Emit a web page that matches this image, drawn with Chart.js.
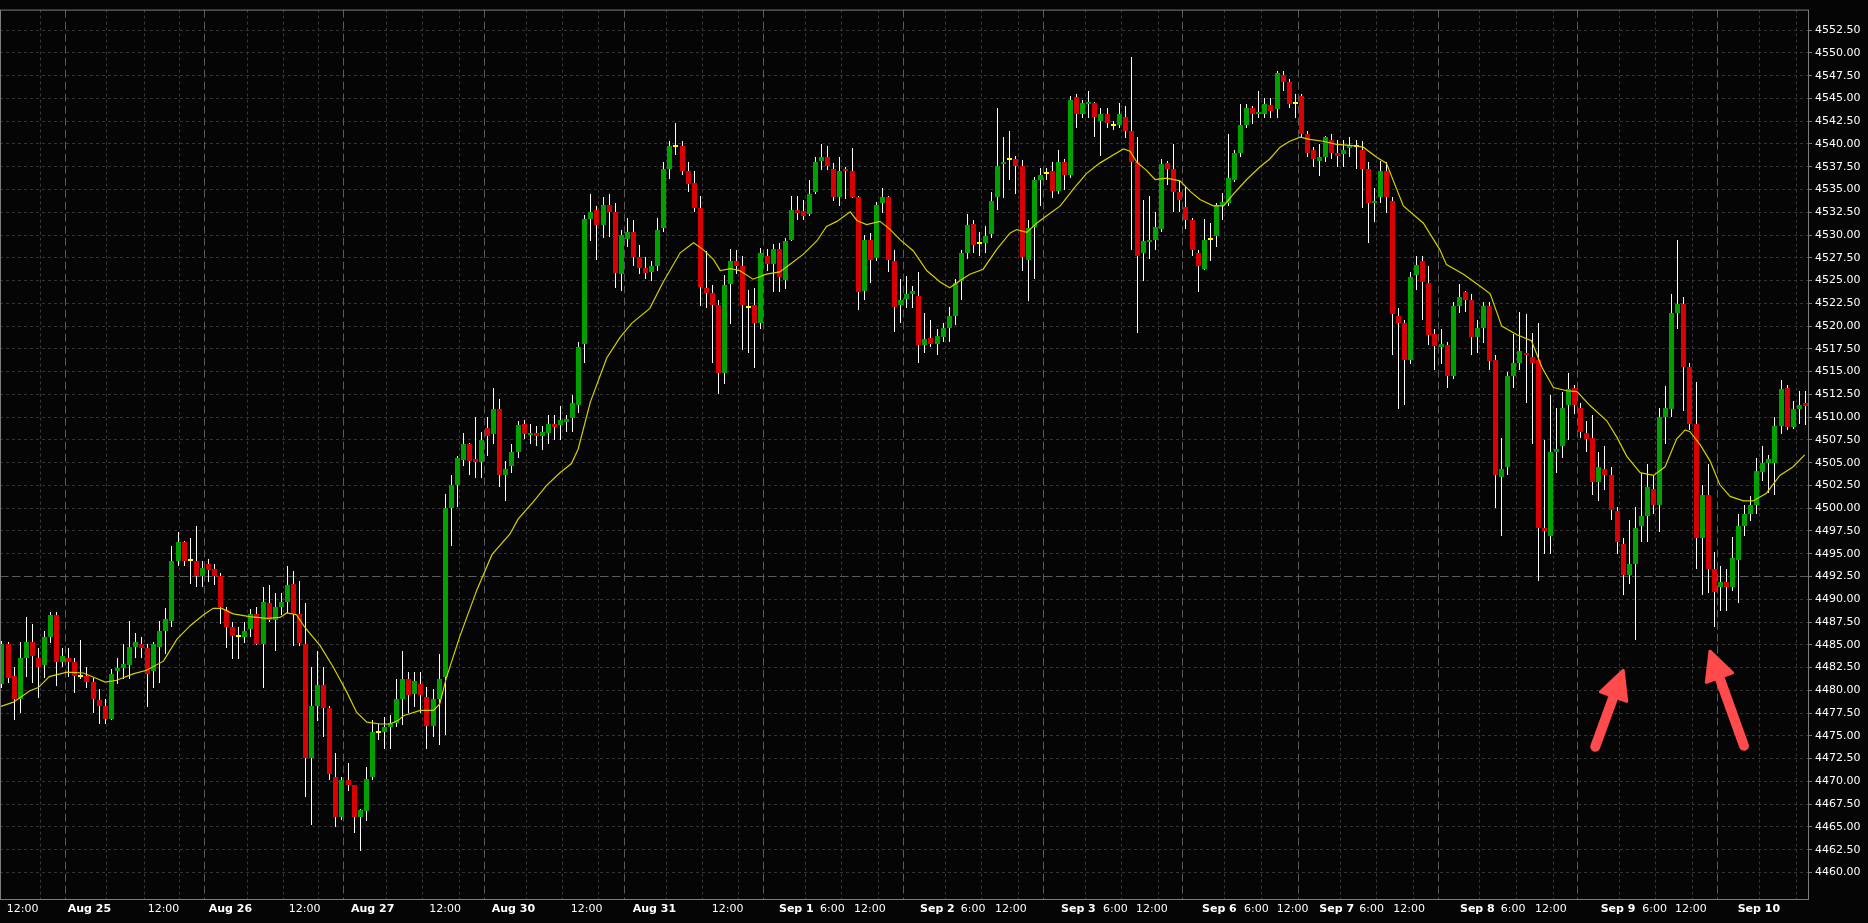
<!DOCTYPE html>
<html>
<head>
<meta charset="utf-8">
<title>Hourly candles with moving average</title>
<script src="https://cdn.jsdelivr.net/npm/chart.js@4.4.1/dist/chart.umd.min.js"></script>
<style>
  html, body { margin: 0; padding: 0; background: #050505; }
  #wrap { width: 1868px; height: 923px; }
</style>
</head>
<body>
<div id="wrap"><canvas id="chart" width="1868" height="923"></canvas></div>
<script>
// hourly candles, index 0..297 (x axis is candle index)
const opens = [
  4480.7, 4485.1, 4481.6, 4479.1, 4483.6, 4485.3, 4483.6, 4482.8, 4485.9, 4488.3,
  4483.1, 4483.6, 4483.1, 4481.5, 4481.6, 4480.9, 4478.9, 4478.3, 4476.8, 4482.1,
  4482.4, 4482.8, 4484.8, 4485.1, 4484.6, 4482.1, 4484.8, 4486.5, 4487.6, 4494.25,
  4496.3, 4494.2, 4494.2, 4492.5, 4493.9, 4493.3, 4492.5, 4488.8, 4487.0, 4485.8,
  4485.9, 4486.7, 4488.4, 4485.1, 4489.6, 4487.7, 4489.1, 4489.7, 4491.7, 4488.4,
  4485.05, 4472.55, 4478.3, 4480.6, 4478.1, 4470.5, 4466.1, 4470.1, 4469.6, 4466.1,
  4466.7, 4470.5, 4475.3, 4475.4, 4476.0, 4476.4, 4479.1, 4481.2, 4479.6, 4480.7,
  4479.25, 4476.1, 4479.0, 4481.5, 4500.0, 4502.5, 4505.3, 4507.0, 4505.4, 4505.1,
  4508.8, 4508.1, 4510.85, 4503.6, 4504.6, 4506.2, 4509.25, 4508.0, 4508.3, 4507.9,
  4508.3, 4509.2, 4509.1, 4509.5, 4509.9, 4511.3, 4518.05, 4531.8, 4532.75, 4531.05,
  4533.3, 4532.55, 4525.7, 4529.6, 4530.3, 4527.6, 4526.4, 4525.95, 4526.55, 4530.8,
  4537.25, 4539.7, 4539.75, 4537.05, 4535.75, 4533.0, 4524.2, 4523.65, 4522.3, 4514.9,
  4524.6, 4527.1, 4526.6, 4522.0, 4522.3, 4520.35, 4527.75, 4526.8, 4528.5, 4525.1,
  4529.5, 4532.75, 4532.6, 4532.35, 4534.7, 4538.1, 4538.55, 4537.25, 4534.15, 4537.25,
  4537.05, 4534.15, 4523.85, 4529.5, 4527.5, 4533.55, 4534.2, 4527.1, 4522.3, 4523.0,
  4523.55, 4523.35, 4517.9, 4518.7, 4518.05, 4518.8, 4519.8, 4521.1, 4524.95, 4528.05,
  4531.2, 4529.0, 4529.15, 4530.1, 4534.2, 4537.85, 4538.2, 4538.3, 4537.6, 4527.3,
  4530.9, 4536.1, 4536.75, 4537.07, 4534.82, 4538.04, 4536.62, 4545.12, 4543.32, 4544.35,
  4544.48, 4542.55, 4543.32, 4542.03, 4542.09, 4542.99, 4541.39, 4538.04, 4528.06, 4529.22,
  4529.47, 4530.63, 4537.91, 4537.26, 4534.69, 4533.08, 4531.6, 4528.06, 4526.32, 4529.47,
  4529.86, 4533.34, 4533.53, 4536.1, 4539.0, 4542.09, 4543.96, 4543.32, 4543.32, 4544.28,
  4543.83, 4547.57, 4546.86, 4544.35, 4545.25, 4541.13, 4539.33, 4538.17, 4538.55, 4540.48,
  4539.0, 4538.87, 4539.52, 4539.65, 4539.33, 4537.26, 4533.53, 4534.2, 4537.07, 4533.79,
  4521.1, 4520.3, 4516.3, 4525.6, 4527.1, 4524.7, 4519.15, 4517.75, 4517.95, 4514.5,
  4522.25, 4523.7, 4522.9, 4518.85, 4519.8, 4522.25, 4516.3, 4503.4, 4504.55, 4514.5,
  4516.0, 4517.1, 4516.65, 4516.3, 4497.8, 4497.0, 4506.15, 4506.8, 4511.3, 4513.25,
  4511.0, 4508.3, 4507.75, 4502.9, 4504.35, 4503.6, 4499.7, 4496.05, 4492.65, 4493.9,
  4498.0, 4499.1, 4502.1, 4500.4, 4510.0, 4510.85, 4521.45, 4522.45, 4515.5, 4509.2,
  4496.7, 4501.45, 4493.3, 4491.3, 4491.95, 4491.3, 4494.35, 4498.0, 4499.4, 4500.4,
  4503.95, 4505.0, 4505.0, 4509.05, 4513.25, 4508.9, 4510.95, 4511.5
];
const highs = [
  4485.4, 4485.3, 4482.6, 4485.3, 4488.0, 4487.3, 4484.7, 4486.5, 4488.6, 4488.6,
  4484.6, 4484.6, 4483.5, 4485.5, 4482.6, 4481.4, 4480.1, 4479.1, 4482.3, 4483.5,
  4485.1, 4487.6, 4486.3, 4485.9, 4485.1, 4485.3, 4487.6, 4489.0, 4495.9, 4497.35,
  4496.4, 4496.7, 4498.0, 4494.2, 4494.4, 4493.9, 4492.9, 4489.1, 4487.5, 4486.9,
  4487.5, 4488.9, 4489.1, 4491.4, 4491.6, 4490.7, 4490.7, 4493.6, 4493.1, 4492.0,
  4489.6, 4482.6, 4484.3, 4482.6, 4478.3, 4473.1, 4470.5, 4472.0, 4469.6, 4467.0,
  4471.6, 4476.7, 4476.3, 4477.1, 4477.3, 4481.2, 4484.3, 4482.0, 4482.0, 4482.0,
  4480.4, 4480.1, 4484.0, 4501.6, 4503.6, 4505.7, 4508.3, 4507.2, 4510.0, 4508.4,
  4510.0, 4513.2, 4512.0, 4505.2, 4507.1, 4509.6, 4509.7, 4509.2, 4509.05, 4509.05,
  4510.2, 4510.2, 4511.2, 4510.2, 4512.4, 4518.2, 4532.2, 4534.5, 4533.2, 4534.2,
  4534.5, 4533.5, 4530.6, 4531.9, 4531.6, 4528.9, 4527.6, 4527.2, 4531.9, 4538.0,
  4540.3, 4542.3, 4540.3, 4538.0, 4537.05, 4534.3, 4528.3, 4524.5, 4522.9, 4525.6,
  4528.5, 4528.4, 4527.75, 4523.95, 4524.2, 4528.6, 4528.5, 4529.0, 4529.15, 4529.7,
  4534.3, 4534.3, 4533.85, 4536.1, 4538.55, 4539.95, 4539.8, 4537.9, 4538.55, 4537.5,
  4539.6, 4534.3, 4530.0, 4530.2, 4533.65, 4535.15, 4534.3, 4528.4, 4525.15, 4525.5,
  4524.4, 4525.9, 4521.4, 4520.65, 4519.7, 4520.3, 4522.05, 4525.15, 4528.4, 4532.35,
  4531.6, 4530.3, 4530.95, 4534.7, 4543.95, 4540.75, 4541.4, 4538.7, 4538.2, 4531.7,
  4536.4, 4537.4, 4537.4, 4538.04, 4539.33, 4538.36, 4545.25, 4545.45, 4544.8, 4545.77,
  4544.6, 4543.96, 4543.96, 4542.55, 4544.48, 4544.16, 4549.5, 4540.74, 4533.85, 4534.3,
  4532.55, 4538.36, 4538.17, 4539.97, 4536.1, 4535.3, 4531.9, 4528.38, 4531.73, 4531.3,
  4533.53, 4534.6, 4541.13, 4539.33, 4544.35, 4544.35, 4544.16, 4545.77, 4545.1, 4545.1,
  4548.0, 4548.0, 4547.18, 4545.45, 4545.45, 4541.39, 4539.65, 4539.97, 4540.93, 4541.13,
  4540.48, 4540.48, 4540.74, 4540.48, 4540.28, 4538.04, 4535.15, 4538.17, 4538.04, 4534.2,
  4521.95, 4520.65, 4525.95, 4527.7, 4527.75, 4526.6, 4519.65, 4519.65, 4518.2, 4522.6,
  4524.65, 4523.85, 4523.55, 4520.65, 4522.6, 4522.6, 4516.8, 4507.75, 4514.95, 4519.15,
  4521.6, 4521.3, 4519.2, 4520.3, 4507.45, 4512.4, 4511.0, 4512.8, 4514.85, 4513.55,
  4511.6, 4509.6, 4510.2, 4506.2, 4506.8, 4504.55, 4500.15, 4496.7, 4498.75, 4500.15,
  4503.9, 4504.9, 4503.6, 4511.0, 4513.45, 4523.55, 4529.5, 4523.25, 4516.0, 4513.9,
  4502.6, 4504.9, 4495.2, 4493.6, 4493.3, 4496.8, 4499.4, 4500.4, 4501.3, 4505.5,
  4506.8, 4505.85, 4510.0, 4514.1, 4513.55, 4511.75, 4512.9, 4512.9
];
const lows = [
  4480.2, 4480.8, 4476.7, 4477.5, 4481.5, 4480.8, 4479.2, 4481.4, 4485.2, 4480.5,
  4482.6, 4481.5, 4479.7, 4481.2, 4480.2, 4477.5, 4476.3, 4476.3, 4476.7, 4480.7,
  4481.2, 4481.2, 4483.5, 4483.5, 4478.2, 4480.2, 4480.8, 4484.0, 4487.0, 4493.7,
  4493.7, 4491.7, 4491.3, 4491.3, 4491.9, 4491.6, 4487.3, 4484.6, 4483.4, 4483.4,
  4485.2, 4485.9, 4485.0, 4480.3, 4487.5, 4484.3, 4488.3, 4488.5, 4484.9, 4484.9,
  4468.3, 4465.2, 4476.6, 4474.9, 4470.1, 4465.0, 4465.8, 4468.9, 4464.3, 4462.3,
  4465.7, 4470.2, 4474.5, 4473.6, 4473.6, 4476.0, 4476.2, 4477.5, 4478.2, 4477.5,
  4473.6, 4474.9, 4474.0, 4475.1, 4495.8, 4500.1, 4504.6, 4503.6, 4503.3, 4503.3,
  4505.7, 4507.0, 4502.3, 4500.8, 4503.9, 4505.5, 4507.65, 4507.0, 4506.8, 4506.4,
  4507.1, 4507.45, 4507.45, 4508.4, 4508.4, 4510.5, 4516.0, 4529.35, 4527.3, 4529.7,
  4529.8, 4524.2, 4523.9, 4528.7, 4526.6, 4525.7, 4525.15, 4525.0, 4526.1, 4530.3,
  4536.2, 4538.8, 4536.6, 4534.7, 4532.55, 4522.2, 4522.0, 4516.0, 4512.5, 4513.6,
  4520.2, 4525.7, 4517.4, 4517.0, 4515.4, 4519.7, 4526.1, 4523.7, 4523.7, 4524.05,
  4529.35, 4531.6, 4531.7, 4532.1, 4534.5, 4537.1, 4537.1, 4533.7, 4533.2, 4534.0,
  4534.05, 4521.8, 4522.9, 4524.7, 4527.1, 4532.4, 4525.9, 4519.3, 4520.3, 4521.95,
  4521.95, 4516.0, 4517.0, 4517.75, 4516.8, 4518.25, 4518.2, 4520.1, 4522.9, 4527.4,
  4528.05, 4527.75, 4528.05, 4529.65, 4532.75, 4534.05, 4536.1, 4534.5, 4526.1, 4522.8,
  4525.15, 4533.2, 4536.1, 4534.05, 4534.5, 4534.95, 4536.23, 4541.78, 4542.86, 4542.86,
  4540.74, 4538.68, 4541.78, 4541.58, 4541.78, 4540.61, 4528.38, 4519.2, 4525.0, 4527.4,
  4528.38, 4530.3, 4535.45, 4532.55, 4532.55, 4530.63, 4527.73, 4523.75, 4526.13, 4527.2,
  4528.7, 4531.7, 4533.2, 4535.8, 4538.55, 4541.78, 4542.2, 4542.86, 4542.86, 4542.86,
  4542.86, 4545.77, 4543.96, 4542.86, 4540.61, 4538.55, 4537.52, 4536.43, 4538.04, 4538.36,
  4537.52, 4537.52, 4538.55, 4537.26, 4533.0, 4529.15, 4531.47, 4533.53, 4532.4, 4516.8,
  4510.85, 4511.3, 4515.85, 4524.0, 4520.65, 4517.95, 4515.15, 4515.8, 4513.25, 4514.2,
  4521.45, 4521.6, 4516.8, 4517.1, 4518.1, 4515.15, 4500.05, 4496.95, 4503.6, 4513.25,
  4515.15, 4511.5, 4507.0, 4492.0, 4495.0, 4495.0, 4503.9, 4505.5, 4507.45, 4510.35,
  4507.75, 4506.2, 4501.45, 4500.8, 4501.95, 4498.75, 4495.0, 4490.5, 4491.7, 4485.55,
  4496.3, 4496.3, 4499.4, 4497.35, 4507.0, 4510.0, 4519.7, 4510.65, 4508.55, 4493.3,
  4490.5, 4490.7, 4487.0, 4488.75, 4488.75, 4490.9, 4489.6, 4496.95, 4498.6, 4499.4,
  4503.0, 4501.65, 4501.45, 4508.1, 4508.55, 4508.75, 4509.2, 4509.1
];
const closes = [
  4485.1, 4481.3, 4479.1, 4483.6, 4485.3, 4483.8, 4482.6, 4485.9, 4488.3, 4483.1,
  4483.8, 4483.1, 4481.6, 4481.5, 4480.9, 4479.1, 4478.3, 4476.8, 4481.8, 4482.4,
  4482.9, 4484.8, 4485.3, 4484.6, 4481.8, 4485.1, 4486.5, 4487.8, 4494.25, 4496.3,
  4494.25, 4494.2, 4492.5, 4493.4, 4493.2, 4492.5, 4489.1, 4487.0, 4486.0, 4485.8,
  4486.5, 4488.4, 4485.1, 4489.7, 4487.7, 4489.1, 4489.7, 4491.6, 4488.4, 4485.2,
  4472.55, 4478.3, 4480.6, 4478.1, 4470.8, 4466.1, 4470.1, 4469.6, 4466.1, 4466.8,
  4470.3, 4475.4, 4475.3, 4476.0, 4476.4, 4479.1, 4481.2, 4479.5, 4481.0, 4479.45,
  4476.1, 4479.0, 4481.2, 4500.0, 4502.5, 4505.5, 4507.0, 4505.2, 4505.1, 4507.45,
  4507.9, 4510.85, 4503.6, 4504.35, 4506.2, 4509.1, 4508.1, 4508.2, 4507.9, 4508.4,
  4509.2, 4508.9, 4509.7, 4509.8, 4511.5, 4517.75, 4531.8, 4532.55, 4531.05, 4533.35,
  4532.55, 4525.8, 4530.0, 4530.3, 4527.6, 4526.35, 4525.8, 4526.55, 4530.6, 4537.25,
  4539.75, 4539.7, 4537.05, 4535.6, 4533.0, 4524.3, 4523.65, 4522.3, 4514.9, 4524.55,
  4527.1, 4526.6, 4522.3, 4522.0, 4520.35, 4528.05, 4526.8, 4528.5, 4525.4, 4529.3,
  4532.75, 4532.4, 4532.1, 4534.55, 4538.0, 4538.6, 4537.6, 4534.15, 4537.05, 4537.05,
  4534.15, 4523.7, 4529.5, 4527.25, 4533.35, 4534.2, 4527.25, 4522.1, 4522.9, 4523.55,
  4523.8, 4517.95, 4518.6, 4518.05, 4518.95, 4519.75, 4521.1, 4524.7, 4528.05, 4531.1,
  4528.9, 4529.0, 4529.85, 4533.7, 4537.55, 4538.05, 4538.2, 4537.6, 4527.6, 4530.8,
  4536.1, 4536.6, 4536.75, 4534.82, 4538.04, 4536.62, 4544.8, 4543.32, 4544.48, 4544.48,
  4542.99, 4543.32, 4542.35, 4542.03, 4543.32, 4541.39, 4538.04, 4527.73, 4529.34, 4529.47,
  4530.83, 4537.84, 4537.26, 4534.69, 4533.85, 4531.6, 4528.38, 4526.64, 4529.47, 4529.47,
  4533.34, 4533.66, 4536.3, 4539.0, 4542.09, 4543.96, 4543.32, 4543.51, 4544.35, 4543.64,
  4547.83, 4546.86, 4544.35, 4544.35, 4541.13, 4539.0, 4538.36, 4538.55, 4540.74, 4539.0,
  4538.68, 4539.33, 4539.84, 4539.65, 4537.26, 4533.53, 4533.79, 4537.07, 4534.2, 4521.3,
  4520.3, 4516.3, 4525.35, 4526.7, 4524.85, 4519.05, 4517.85, 4518.05, 4514.5, 4522.25,
  4523.25, 4522.9, 4518.85, 4519.8, 4522.25, 4516.15, 4503.6, 4504.35, 4514.5, 4516.0,
  4517.25, 4516.8, 4516.0, 4497.8, 4497.5, 4506.15, 4506.5, 4511.0, 4513.05, 4511.3,
  4508.4, 4507.6, 4502.9, 4504.55, 4503.6, 4499.85, 4496.3, 4492.65, 4493.9, 4497.8,
  4499.1, 4502.3, 4500.4, 4510.0, 4511.0, 4521.45, 4522.45, 4515.5, 4509.2, 4496.7,
  4501.45, 4493.3, 4490.85, 4491.95, 4491.3, 4494.55, 4498.0, 4499.4, 4500.4, 4504.1,
  4505.0, 4505.4, 4509.05, 4513.05, 4508.9, 4510.95, 4511.3, 4511.2
];

// moving average at candle positions
const maIdx = [
  -0.3, 1.9, 4.6, 6, 7.8, 10.7, 13.4, 15.6, 17, 18.9, 21.6, 23.8, 26.6, 28.8, 31, 33.2, 34.8, 36.2,
  38.1, 40.8, 43.6, 45.8, 46.9, 48.5, 49.9, 52.4, 54.6, 56.8, 58.4, 60.1, 62.3, 63.9, 65.3, 66.1,
  68.9, 71.1, 72.1, 73.2, 75.4, 78.2, 80.7, 83.7, 85, 87.5, 89.7, 91.9, 93.8, 94.9, 96.9, 99.6,
  101.8, 103.7, 106.7, 108.9, 111.7, 113.9, 115.5, 117.2, 118.3, 120, 121.5, 123.7, 125.9, 128.1,
  129.8, 132, 134.2, 135.8, 137.5, 139.7, 140.8, 142.4, 144.6, 146.3, 147.9, 150.1, 152.3, 154.5,
  156.1, 157.8, 159.4, 161.6, 163.8, 166, 167.1, 168.8, 170.4, 172, 174.3, 176.5, 178.6, 180.8,
  183, 184.7, 185.8, 186.9, 188.5, 189.9, 191.8, 194, 195.7, 197.3, 199.5, 201.2, 202.8, 205,
  207.2, 208.8, 210.5, 212.1, 213.8, 215.4, 217.6, 219.8, 222, 224.2, 226.4, 228, 230.8, 234.1,
  236.8, 237.9, 240.7, 243.4, 245.1, 247, 249.5, 251.9, 253.6, 255.5, 257.7, 259.4, 261.5, 264.3,
  266, 267.6, 269.8, 272, 273.9, 275.8, 277.2, 278, 279.7, 281.3, 282.9, 284.6, 286.8, 288.4,
  290.6, 292.8, 295, 296.9
];
const maVal = [
  4478.2, 4478.7, 4479.95, 4480.3, 4481.5, 4482.0, 4481.9, 4481.3, 4480.9, 4481.1, 4481.8, 4482.2, 4483.2, 4485.6, 4487.1, 4488.3, 4489.0, 4489.0,
  4488.4, 4488.1, 4487.9, 4488.0, 4488.5, 4488.3, 4486.9, 4484.9, 4482.5, 4479.8, 4477.6, 4476.5, 4476.3, 4476.3, 4476.7, 4477.2,
  4477.8, 4477.8, 4478.5, 4481.4, 4485.9, 4491.0, 4494.9, 4497.2, 4498.8, 4500.7, 4502.5, 4503.9, 4504.9, 4506.5, 4511.65, 4516.5,
  4518.75, 4520.3, 4521.95, 4524.85, 4528.05, 4529.15, 4528.4, 4527.3, 4526.1, 4526.3, 4526.1, 4525.15, 4525.7, 4525.95,
  4526.8, 4527.9, 4529.35, 4530.95, 4531.5, 4532.55, 4531.6, 4531.15, 4531.5, 4530.6, 4529.5, 4528.25, 4526.1, 4524.85,
  4524.2, 4525.0, 4525.7, 4526.25, 4528.4, 4530.2, 4530.6, 4530.3, 4531.3, 4532.1, 4533.2, 4535.1, 4536.75, 4537.9,
  4538.8, 4539.45, 4539.2, 4538.0, 4537.1, 4536.1, 4536.25, 4535.95, 4534.8, 4533.9, 4533.2, 4533.2, 4534.5, 4536.1,
  4537.5, 4538.35, 4539.65, 4540.3, 4540.75, 4540.5, 4540.3, 4539.95, 4539.85, 4539.65, 4538.55, 4537.9, 4533.2, 4531.3,
  4528.4, 4526.75, 4525.7, 4524.4, 4523.55, 4520.0, 4519.05, 4518.4, 4515.5, 4513.25, 4512.9, 4512.8, 4511.3, 4509.6,
  4507.75, 4505.7, 4503.9, 4503.6, 4504.55, 4507.6, 4508.6, 4508.4, 4506.95, 4505.2, 4502.6, 4501.3, 4500.8, 4500.8,
  4501.65, 4503.6, 4504.55, 4505.85
];

// x axis labels (left edge of each label, in candle index units)
const labelPos = [0.78, 10.83, 24.0, 34.05, 47.23, 57.49, 70.38, 80.66, 93.67, 103.88, 116.89,
  127.97, 134.73, 140.33, 151.2, 157.9, 163.55, 174.42, 181.34, 186.77, 197.64, 204.55, 209.94,
  216.96, 223.55, 229.14, 240.12, 246.83, 252.48, 263.3, 270.15, 275.53, 285.86];
const labelText = ['12:00', 'Aug 25', '12:00', 'Aug 26', '12:00', 'Aug 27', '12:00', 'Aug 30', '12:00', 'Aug 31', '12:00',
  'Sep 1', '6:00', '12:00', 'Sep 2', '6:00', '12:00', 'Sep 3', '6:00', '12:00', 'Sep 6', '6:00', '12:00',
  'Sep 7', '6:00', '12:00', 'Sep 8', '6:00', '12:00', 'Sep 9', '6:00', '12:00', 'Sep 10'];

// vertical grid lines (candle index units)
const hourLines = [6.38, 17.3, 23.4, 29.3, 40.4, 46.3, 52.2, 63.4, 69.3, 75.3, 86.4, 92.4, 98.3,
  109.5, 115.3, 121.3, 132.3, 138.3, 144.3, 155.4, 161.4, 167.4, 178.5, 184.4, 190.4, 201.4, 207.5,
  220.5, 226.4, 232.4, 243.4, 249.4, 255.5, 266.4, 272.4, 278.4, 289.4, 295.5];
const dayLines = [10.5, 33.28, 56.33, 79.5, 102.5, 125.39, 148.45, 171.57, 194.46, 213.5, 236.55, 259.45, 282.5];

const priceTicks = [4460, 4462.5, 4465, 4467.5, 4470, 4472.5, 4475, 4477.5, 4480, 4482.5, 4485, 4487.5,
  4490, 4492.5, 4495, 4497.5, 4500, 4502.5, 4505, 4507.5, 4510, 4512.5, 4515, 4517.5, 4520, 4522.5,
  4525, 4527.5, 4530, 4532.5, 4535, 4537.5, 4540, 4542.5, 4545, 4547.5, 4550, 4552.5];
const refLevel = 4492.5;

// red arrows: [candle index, price]
const arrowTail = [[262.4, 4473.8], [286.9, 4473.9]];
const arrowTip = [[267.0, 4482.2], [281.3, 4484.3]];

const GREEN = '#00a000', RED = '#d80000', DOJI = '#ffff00';
const bodyColors = opens.map((o, i) => closes[i] > o ? GREEN : (closes[i] < o ? RED : DOJI));

const overlay = {
  id: 'overlay',
  // snap candle bars to whole pixels so bodies and wicks stay crisp
  afterDatasetsUpdate(chart) {
    chart.getSortedVisibleDatasetMetas().forEach(meta => {
      if (meta.type !== 'bar') return;
      meta.data.forEach(el => {
        el.x = Math.floor(el.x) + 0.5;
        el.y = Math.round(el.y);
        el.base = Math.round(el.base);
      });
    });
  },
  beforeDatasetsDraw(chart) {
    const { ctx, chartArea: a, scales: { x, y } } = chart;
    ctx.save();
    ctx.beginPath();
    ctx.rect(a.left, a.top, a.right - a.left, a.bottom - a.top);
    ctx.clip();
    ctx.lineWidth = 1;
    const vline = v => {
      const px = Math.floor(x.getPixelForValue(v)) + 0.5;
      ctx.beginPath(); ctx.moveTo(px, a.top); ctx.lineTo(px, a.bottom); ctx.stroke();
    };
    ctx.strokeStyle = '#383838';
    ctx.setLineDash([3, 3]);
    hourLines.forEach(vline);
    ctx.strokeStyle = '#5a5a5a';
    ctx.setLineDash([8, 4]);
    dayLines.forEach(vline);
    const py = Math.floor(y.getPixelForValue(refLevel)) + 0.5;
    ctx.beginPath(); ctx.moveTo(a.left, py); ctx.lineTo(a.right, py); ctx.stroke();
    ctx.restore();
  },
  afterDraw(chart) {
    const { ctx, chartArea: a, scales: { x, y } } = chart;
    ctx.save();
    ctx.strokeStyle = '#7c7c7c';
    ctx.lineWidth = 1;
    ctx.strokeRect(a.left + 0.5, a.top + 0.5, a.right - a.left, a.bottom - a.top);

    ctx.fillStyle = '#ff4b4b';
    ctx.strokeStyle = '#ff4b4b';
    arrowTail.forEach((t, k) => {
      const x0 = x.getPixelForValue(t[0]), y0 = y.getPixelForValue(t[1]);
      const x1 = x.getPixelForValue(arrowTip[k][0]), y1 = y.getPixelForValue(arrowTip[k][1]);
      const len = Math.hypot(x1 - x0, y1 - y0);
      const ux = (x1 - x0) / len, uy = (y1 - y0) / len;
      const headLen = 28, headW = 14;
      const bx = x1 - ux * headLen, by = y1 - uy * headLen;
      ctx.lineCap = 'round';
      ctx.lineWidth = 10;
      ctx.beginPath();
      ctx.moveTo(x0, y0);
      ctx.lineTo(x1 - ux * headLen * 0.6, y1 - uy * headLen * 0.6);
      ctx.stroke();
      ctx.lineJoin = 'round';
      ctx.lineWidth = 3;
      ctx.beginPath();
      ctx.moveTo(x1, y1);
      ctx.lineTo(bx - uy * headW, by + ux * headW);
      ctx.lineTo(bx + uy * headW, by - ux * headW);
      ctx.closePath();
      ctx.fill();
      ctx.stroke();
    });
    ctx.restore();
  }
};

const ctx = document.getElementById('chart').getContext('2d');
new Chart(ctx, {
  type: 'bar',
  data: {
    datasets: [
      {
        type: 'line',
        label: 'Moving average',
        data: maIdx.map((v, i) => ({ x: v, y: maVal[i] })),
        borderColor: '#d6cf00',
        borderWidth: 1.2,
        pointRadius: 0,
        tension: 0,
        order: 0
      },
      {
        label: 'Body',
        data: opens.map((o, i) => ({ x: i, y: [o, closes[i]] })),
        backgroundColor: bodyColors,
        barThickness: 5,
        maxBarThickness: 5,
        minBarLength: 2,
        grouped: false,
        inflateAmount: 0,
        order: 1
      },
      {
        label: 'Wick',
        data: lows.map((l, i) => ({ x: i, y: [l, highs[i]] })),
        backgroundColor: '#ffffff',
        barThickness: 1,
        maxBarThickness: 1,
        grouped: false,
        inflateAmount: 0,
        order: 2
      }
    ]
  },
  options: {
    responsive: false,
    animation: false,
    devicePixelRatio: 1,
    events: [],
    layout: { padding: { top: 6, left: 0, right: 0, bottom: 0 } },
    plugins: {
      legend: { display: false },
      tooltip: { enabled: false }
    },
    scales: {
      x: {
        type: 'linear',
        min: -0.32,
        max: 297.44,
        offset: false,
        grid: { display: false, drawTicks: false },
        border: { display: false },
        afterBuildTicks: s => { s.ticks = labelPos.map(v => ({ value: v })); },
        afterFit: s => { s.height = 24; },
        ticks: {
          autoSkip: false,
          maxRotation: 0,
          minRotation: 0,
          align: 'start',
          padding: 4,
          color: '#ffffff',
          font: c => ({ family: 'DejaVu Sans', size: 11, weight: labelText[c.index] && labelText[c.index].indexOf(':') < 0 ? 'bold' : 'normal' }),
          callback: (v, i) => labelText[i]
        }
      },
      y: {
        type: 'linear',
        position: 'right',
        min: 4457.08,
        max: 4554.76,
        afterBuildTicks: s => { s.ticks = priceTicks.map(v => ({ value: v })); },
        afterFit: s => { s.width = 60; },
        grid: { color: '#333333', lineWidth: 1, drawTicks: true, tickLength: 4, tickColor: '#777777' },
        border: { display: false, dash: [3, 3] },
        ticks: {
          color: '#ffffff',
          padding: 3,
          font: { family: 'DejaVu Sans', size: 11 },
          callback: v => Number(v).toFixed(2)
        }
      }
    }
  },
  plugins: [overlay]
});
</script>
</body>
</html>
